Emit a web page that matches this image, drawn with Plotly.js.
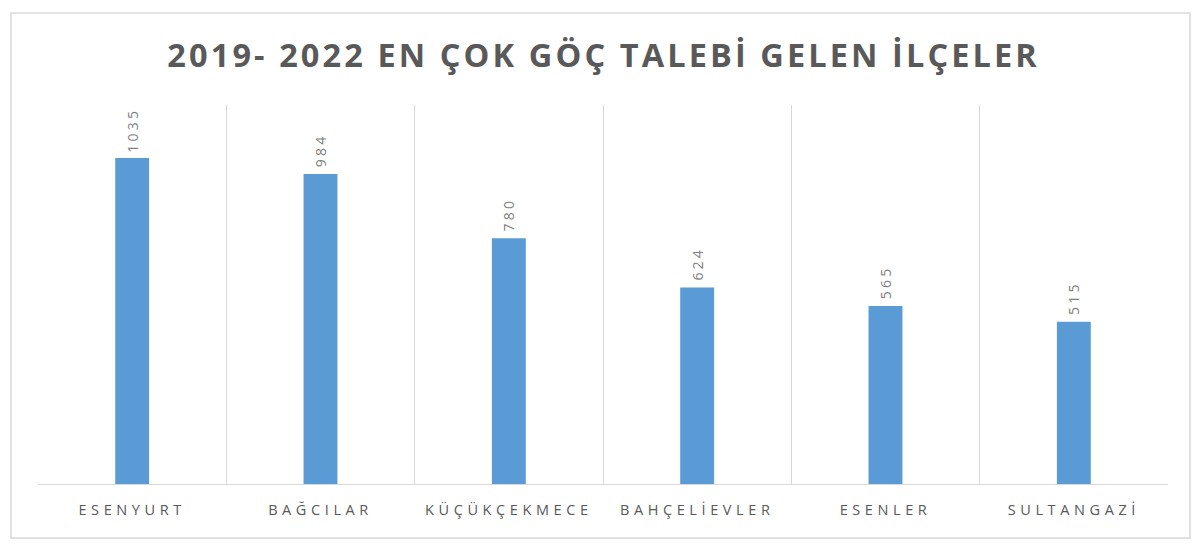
<!DOCTYPE html>
<html>
<head>
<meta charset="utf-8">
<script src="https://cdn.plot.ly/plotly-3.0.1.min.js"></script>
<style>
  html, body { margin: 0; padding: 0; background: #fff; }
  #chart { width: 1200px; height: 552px; }
  #chart .gtitle { letter-spacing: 3.1px; }
  #chart .xtick text { letter-spacing: 4.6px; }
  #chart .points text { letter-spacing: 3.2px !important; }
</style>
</head>
<body>
<div id="chart"></div>
<script>
const districts = ["ESENYURT", "BAĞCILAR", "KÜÇÜKÇEKMECE", "BAHÇELİEVLER", "ESENLER", "SULTANGAZİ"];
const requests = [1035, 984, 780, 624, 565, 515];
const chartTitle = "2019- 2022 EN ÇOK GÖÇ TALEBİ GELEN İLÇELER";

const trace = {
  type: "bar",
  x: districts,
  y: requests,
  text: requests.map(v => "\u2002" + v),
  textposition: "outside",
  textangle: -90,
  constraintext: "none",
  cliponaxis: false,
  textfont: { family: "Open Sans, sans-serif", size: 14, color: "#808080" },
  marker: { color: "#5B9BD5" },
  hoverinfo: "x+y"
};

const layout = {
  width: 1200,
  height: 552,
  margin: { l: 38, r: 32, t: 105, b: 68 },
  paper_bgcolor: "#ffffff",
  plot_bgcolor: "#ffffff",
  bargap: 0.82,
  showlegend: false,
  title: {
    text: chartTitle,
    x: 0.503,
    xanchor: "center",
    y: 0.9,
    yanchor: "middle",
    font: { family: "Open Sans, sans-serif", size: 32.5, color: "#595959", weight: "bold" }
  },
  xaxis: {
    type: "category",
    tickson: "boundaries",
    showgrid: true,
    gridcolor: "#d9d9d9",
    gridwidth: 1,
    showline: true,
    linecolor: "#d9d9d9",
    linewidth: 1,
    ticks: "",
    tickfont: { family: "Open Sans, sans-serif", size: 14.5, color: "#595959" },
    ticklabelstandoff: 13,
    fixedrange: true
  },
  yaxis: {
    range: [0, 1203],
    showgrid: false,
    zeroline: false,
    showticklabels: false,
    showline: false,
    ticks: "",
    fixedrange: true
  },
  shapes: [{
    type: "rect",
    xref: "paper", yref: "paper",
    x0: -0.0239, x1: 1.0195,
    y0: -0.1425, y1: 1.2427,
    line: { color: "#d9d9d9", width: 1.5 },
    fillcolor: "rgba(0,0,0,0)",
    layer: "below"
  }]
};

Plotly.newPlot("chart", [trace], layout, { displayModeBar: false, staticPlot: true });
</script>
</body>
</html>
